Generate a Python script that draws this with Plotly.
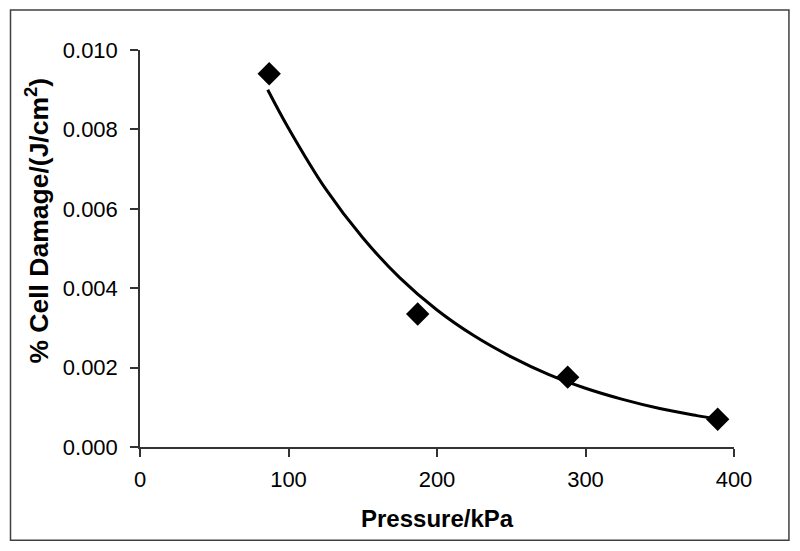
import plotly.graph_objects as go

# measured points
pressure = [87, 187, 288, 389]
damage = [0.0094, 0.00335, 0.00176, 0.0007]

# exponential trendline
trend_x = [86, 100, 125, 150, 175, 200, 225, 250, 275, 300, 325, 350, 375, 389]
trend_y = [0.0090, 0.00803, 0.00650, 0.00527, 0.00426, 0.00345, 0.00280,
           0.00227, 0.00183, 0.00148, 0.00120, 0.00097, 0.00079, 0.00070]

x_ticks = [0, 100, 200, 300, 400]
y_ticks = [0.000, 0.002, 0.004, 0.006, 0.008, 0.010]

FONT = "Liberation Sans, Arial, sans-serif"

fig = go.Figure()

fig.add_trace(
    go.Scatter(
        x=trend_x,
        y=trend_y,
        mode="lines",
        line=dict(color="black", width=3, shape="spline"),
        showlegend=False,
    )
)

fig.add_trace(
    go.Scatter(
        x=pressure,
        y=damage,
        mode="markers",
        marker=dict(symbol="diamond", size=18, color="black"),
        showlegend=False,
    )
)

# outer chart border
fig.add_shape(
    type="rect",
    xref="paper", yref="paper",
    x0=-0.218, x1=1.0925, y0=-0.235, y1=1.101,
    line=dict(color="#404040", width=1.5),
)

# axis titles
fig.add_annotation(
    text="<b>Pressure/kPa</b>",
    xref="paper", yref="paper",
    x=0.5, y=-0.18,
    xanchor="center", yanchor="middle",
    showarrow=False,
    font=dict(size=24),
)
fig.add_annotation(
    text="<b>% Cell Damage/(J/cm<sup>2</sup>)</b>",
    xref="paper", yref="paper",
    x=-0.173, y=0.571,
    xanchor="center", yanchor="middle",
    textangle=-90,
    showarrow=False,
    font=dict(size=26.5),
)

# page body adds 8px of margin, so the plot area is shifted up/left by 8px
fig.update_layout(
    width=800,
    height=551,
    margin=dict(l=131.5, r=74, t=42, b=112.3),
    plot_bgcolor="white",
    paper_bgcolor="white",
    font=dict(family=FONT, color="black", size=22),
)

fig.update_xaxes(
    range=[0, 400],
    tickvals=x_ticks,
    ticktext=[str(v) for v in x_ticks],
    showgrid=False,
    zeroline=False,
    showline=True,
    linecolor="#333333",
    linewidth=1.5,
    ticks="outside",
    ticklen=8,
    tickwidth=1.5,
    tickcolor="#333333",
    tickfont=dict(size=22),
    ticklabelstandoff=4,
)

fig.update_yaxes(
    range=[0, 0.010],
    tickvals=y_ticks,
    ticktext=[f"{v:.3f}" for v in y_ticks],
    showgrid=False,
    zeroline=False,
    showline=True,
    linecolor="#333333",
    linewidth=1.5,
    ticks="outside",
    ticklen=8,
    tickwidth=1.5,
    tickcolor="#333333",
    tickfont=dict(size=22),
    ticklabelstandoff=8,
)

fig.write_html("out.html")
